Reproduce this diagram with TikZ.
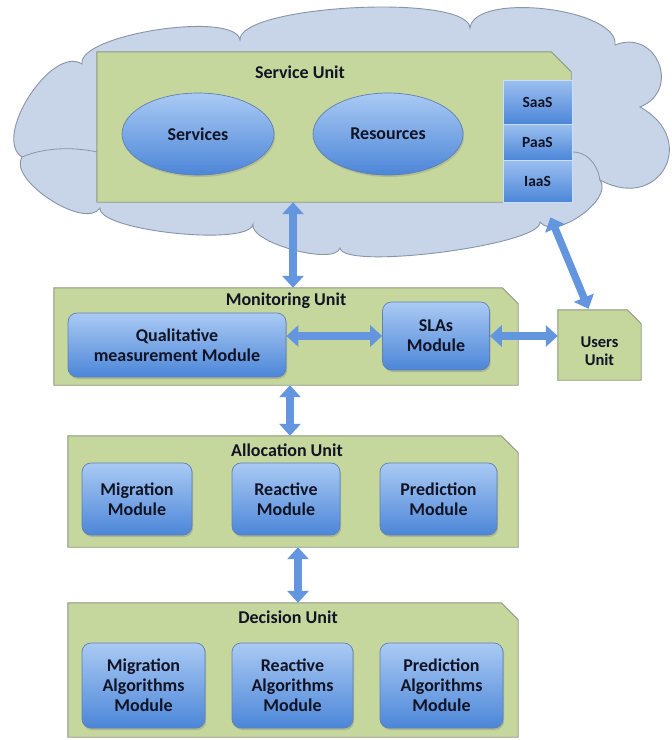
\documentclass[tikz,border=0pt]{standalone}
\usepackage{fontspec}
\setmainfont{Carlito}
\usetikzlibrary{arrows.meta,shapes.geometric,calc,shadows}

\definecolor{unitgreen}{RGB}{197,215,156}
\definecolor{unitline}{RGB}{140,150,128}
\definecolor{cloudfill}{RGB}{200,213,233}
\definecolor{cloudline}{RGB}{136,148,168}
\definecolor{modtop}{RGB}{170,202,244}
\definecolor{modbot}{RGB}{76,134,216}
\definecolor{modline}{RGB}{96,128,180}
\definecolor{arrowblue}{RGB}{100,150,224}
\definecolor{ink}{RGB}{18,20,38}

% chamfered outline of a unit frame, drawn around an (empty) anchor node
\newcommand\UnitOutline[2]{%
  \draw[unitbox] (#1.south west) -- (#1.north west)
    -- ([xshift=-#2pt]#1.north east) -- ([yshift=-#2pt]#1.north east)
    -- (#1.south east) -- cycle;}

\begin{document}
\begin{tikzpicture}[x=1pt,y=-1pt,
  every node/.style={text=ink, font=\bfseries\fontsize{18}{20}\selectfont},
  frame/.style 2 args={inner sep=0pt, minimum width=#1, minimum height=#2},
  unitbox/.style={fill=unitgreen, draw=unitline, line width=0.9pt},
  cloud/.style={fill=cloudfill, draw=cloudline, line width=0.9pt},
  title/.style={inner sep=1pt},
  module/.style 2 args={rectangle, rounded corners=9pt, draw=modline,
    line width=0.7pt, top color=modtop, bottom color=modbot, align=center,
    inner sep=0pt, minimum width=#1, minimum height=#2,
    drop shadow={shadow xshift=1.2pt, shadow yshift=-2pt, opacity=0.35}},
  blob/.style 2 args={ellipse, draw=modline, line width=0.7pt,
    top color=modtop, bottom color=modbot, inner sep=0pt,
    minimum width=#1, minimum height=#2,
    drop shadow={shadow xshift=1.2pt, shadow yshift=-2pt, opacity=0.3}},
  tier/.style={rectangle, draw=modtop!60!white, line width=0.8pt,
    top color=modtop!85!modbot, bottom color=modbot, inner sep=0pt,
    minimum width=69pt, font=\bfseries\fontsize{15.5}{17}\selectfont},
  biarrow/.style={draw=arrowblue, line width=7.5pt,
    {Triangle[width=21pt,length=12pt]}-{Triangle[width=21pt,length=12pt]}}
]
\useasboundingbox[fill=white] (0,0) rectangle (672,740);

% ---------- cloud ----------
\draw[cloud] (22,157) .. controls (-8.2,137.5) and (51.8,44.5) .. (82,64)
  .. controls (77.5,34.3) and (235.5,10.3) .. (240,40)
  .. controls (238.2,5) and (468.2,-7) .. (470,28)
  .. controls (474.3,-8.7) and (619.3,8.3) .. (615,45)
  .. controls (656.7,28.2) and (681.7,90.2) .. (640,107)
  .. controls (699.6,139.7) and (659.6,212.7) .. (600,180)
  .. controls (614.2,199.3) and (554.2,241.3) .. (540,222)
  .. controls (543,244.8) and (343,270.8) .. (340,248)
  .. controls (335,266.3) and (248,242.3) .. (253,224)
  .. controls (250.6,246.9) and (97.6,230.9) .. (100,208)
  .. controls (85.2,230.6) and (7.2,179.6) .. (22,157) -- cycle;
\draw[cloudline, line width=0.8pt] (22,157) .. controls (45,147) and (75,147) .. (97,152);
\draw[cloudline, line width=0.8pt] (571,152) .. controls (585,151) and (597,162) .. (600,180);

% ---------- service unit ----------
\node[frame={474pt}{150pt}] (svc) at (334,127) {};
\UnitOutline{svc}{20}
\node[title] (svctitle) at (300,72) {Service Unit};
\node[blob={152pt}{82pt}] (services) at (198,134) {Services};
\node[blob={150pt}{82pt}] (resources) at (388,134) {Resources};
\node[tier, minimum height=44pt] (saas) at (537.5,102) {SaaS};
\node[tier, minimum height=36pt] (paas) at (537.5,142) {PaaS};
\node[tier, minimum height=42pt] (iaas) at (537.5,181) {IaaS};

% ---------- monitoring unit ----------
\node[frame={464pt}{97pt}] (mon) at (286,336.5) {};
\UnitOutline{mon}{16}
\node[title] (montitle) at (286,301) {Monitoring Unit};
\node[module={218pt}{64pt}] (qual) at (177,345) {Qualitative\\measurement Module};
\node[module={107pt}{68pt}] (sla) at (436,336) {SLAs\\Module};

% ---------- users unit ----------
\node[frame={83pt}{70pt}] (users) at (599.5,345) {};
\UnitOutline{users}{14}
\node[align=center, font=\bfseries\fontsize{16.5}{18.5}\selectfont] (userstxt) at (599.5,351) {Users\\Unit};

% ---------- allocation unit ----------
\node[frame={450pt}{111pt}] (alloc) at (293,491.5) {};
\UnitOutline{alloc}{17}
\node[title] (alloctitle) at (287,450) {Allocation Unit};
\node[module={110pt}{72pt}] (amig) at (137,499) {Migration\\Module};
\node[module={108pt}{72pt}] (areac) at (286,499) {Reactive\\Module};
\node[module={117pt}{72pt}] (apred) at (438.5,499) {Prediction\\Module};

% ---------- decision unit ----------
\node[frame={450pt}{134pt}] (dec) at (293,670) {};
\UnitOutline{dec}{17}
\node[title] (dectitle) at (288,617) {Decision Unit};
\node[module={123pt}{85pt}] (dmig) at (143.5,685.5) {Migration\\Algorithms\\Module};
\node[module={121pt}{85pt}] (dreac) at (292.5,685.5) {Reactive\\Algorithms\\Module};
\node[module={123pt}{85pt}] (dpred) at (441.5,685.5) {Prediction\\Algorithms\\Module};

% ---------- connectors ----------
\coordinate (colA) at (293,0);
\coordinate (colB) at (290,0);
\coordinate (colC) at (298,0);
\draw[biarrow] (svc.south -| colA) -- (mon.north -| colA);
\draw[biarrow] (qual.east |- sla.west) -- (sla.west);
\draw[biarrow] (sla.east) -- (users.west |- sla.east);
\draw[biarrow] ($(iaas.south)+(13,15)$) -- ($(users.north)+(-11,-1)$);
\draw[biarrow] (mon.south -| colB) -- (alloc.north -| colB);
\draw[biarrow] (alloc.south -| colC) -- (dec.north -| colC);
\end{tikzpicture}
\end{document}
